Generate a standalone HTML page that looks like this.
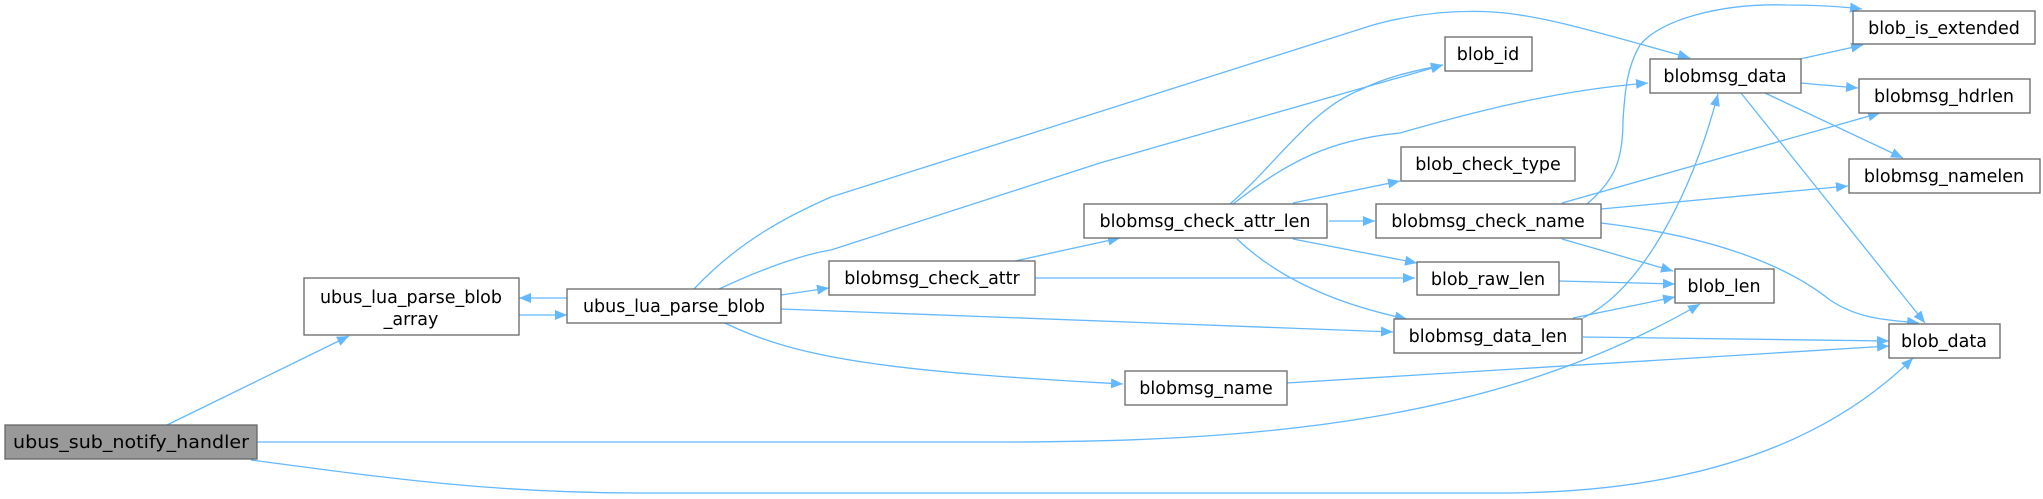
<!DOCTYPE html>
<html><head><meta charset="utf-8"><style>
html,body{margin:0;padding:0;background:#fff;}
svg{display:block;}
text{font-family:"DejaVu Sans","Liberation Sans",sans-serif;font-size:17.5px;fill:#000;}
.n{fill:#fff;stroke:#666;stroke-width:1.3;}
.e{fill:none;stroke:#63b8ff;stroke-width:1.3;}
</style></head><body>
<svg width="2043" height="499" viewBox="0 0 2043 499" xmlns="http://www.w3.org/2000/svg">
<defs>
<marker id="a" markerUnits="userSpaceOnUse" markerWidth="14" markerHeight="12" refX="12" refY="5" orient="auto">
<path d="M0,0 L12,5 L0,10 z" fill="#63b8ff"/>
</marker>
</defs>
<g marker-end="url(#a)">
<path class="e" d="M167,425 L349,336"/>
<path class="e" d="M257,442 L1000,442 C1267,442 1500,420 1700,304"/>
<path class="e" d="M251,460 C400,480 500,493 640,493 L1500,493 C1700,493 1830,440 1913,358"/>
<path class="e" d="M519,315 L567,315"/>
<path class="e" d="M567,298 L519,298"/>
<path class="e" d="M694,289 C740,240 790,215 831,197 L1373,25 C1420,12 1460,10 1493,12 C1540,15 1590,30 1690,58"/>
<path class="e" d="M719,289 C760,270 800,255 831,250 L1100,163 L1443,65"/>
<path class="e" d="M781,295 L829,288"/>
<path class="e" d="M781,309 L1393,332"/>
<path class="e" d="M725,323 C800,360 900,372 1123,384"/>
<path class="e" d="M1015,261 L1120,238"/>
<path class="e" d="M1035,278 L1415,278"/>
<path class="e" d="M1230,204 C1280,160 1310,110 1360,90 C1390,75 1420,70 1443,65"/>
<path class="e" d="M1233,204 C1290,160 1330,140 1400,133 C1480,110 1560,90 1648,83"/>
<path class="e" d="M1293,203 L1400,181"/>
<path class="e" d="M1329,221 L1375,221"/>
<path class="e" d="M1293,239 L1417,263"/>
<path class="e" d="M1237,239 C1280,280 1340,305 1407,319"/>
<path class="e" d="M1587,204 C1615,180 1623,160 1623,120 C1625,90 1627,67 1640,45 C1660,20 1720,3 1787,5 C1820,5 1845,7 1862,9"/>
<path class="e" d="M1562,203 L1880,113"/>
<path class="e" d="M1601,209 L1848,186"/>
<path class="e" d="M1562,239 L1673,271"/>
<path class="e" d="M1601,223 C1700,235 1780,260 1830,300 C1860,320 1890,320 1919,323"/>
<path class="e" d="M1800,59 L1863,45"/>
<path class="e" d="M1800,83 L1858,88"/>
<path class="e" d="M1765,93 L1903,158"/>
<path class="e" d="M1741,93 L1925,323"/>
<path class="e" d="M1559,281 L1675,284"/>
<path class="e" d="M1573,318 L1675,297"/>
<path class="e" d="M1583,318 C1640,290 1690,200 1718,94"/>
<path class="e" d="M1583,337 L1889,341"/>
<path class="e" d="M1287,383 L1889,346"/>
</g>
<rect x="5" y="425" width="252" height="34" fill="#999" stroke="#666" stroke-width="1.3"/>
<text x="131" y="448" text-anchor="middle" textLength="236" lengthAdjust="spacingAndGlyphs">ubus_sub_notify_handler</text>
<rect class="n" x="304" y="278" width="215" height="57"/>
<text x="411" y="303" text-anchor="middle">ubus_lua_parse_blob</text>
<text x="411" y="325" text-anchor="middle">_array</text>
<rect class="n" x="567" y="289" width="214" height="34"/>
<text x="674" y="312" text-anchor="middle">ubus_lua_parse_blob</text>
<rect class="n" x="829" y="261" width="206" height="34"/>
<text x="932" y="284" text-anchor="middle">blobmsg_check_attr</text>
<rect class="n" x="1125" y="371" width="162" height="34"/>
<text x="1206" y="394" text-anchor="middle">blobmsg_name</text>
<rect class="n" x="1084" y="204" width="243" height="34"/>
<text x="1205" y="227" text-anchor="middle">blobmsg_check_attr_len</text>
<rect class="n" x="1445" y="37" width="87" height="34"/>
<text x="1488" y="60" text-anchor="middle">blob_id</text>
<rect class="n" x="1401" y="147" width="174" height="34"/>
<text x="1488" y="170" text-anchor="middle">blob_check_type</text>
<rect class="n" x="1376" y="204" width="225" height="34"/>
<text x="1488" y="227" text-anchor="middle">blobmsg_check_name</text>
<rect class="n" x="1417" y="262" width="142" height="33"/>
<text x="1488" y="285" text-anchor="middle">blob_raw_len</text>
<rect class="n" x="1394" y="319" width="188" height="34"/>
<text x="1488" y="342" text-anchor="middle">blobmsg_data_len</text>
<rect class="n" x="1650" y="59" width="151" height="34"/>
<text x="1725" y="82" text-anchor="middle">blobmsg_data</text>
<rect class="n" x="1675" y="269" width="99" height="34"/>
<text x="1724" y="292" text-anchor="middle">blob_len</text>
<rect class="n" x="1853" y="11" width="182" height="33"/>
<text x="1944" y="34" text-anchor="middle">blob_is_extended</text>
<rect class="n" x="1859" y="79" width="171" height="34"/>
<text x="1944" y="102" text-anchor="middle">blobmsg_hdrlen</text>
<rect class="n" x="1849" y="159" width="191" height="34"/>
<text x="1944" y="182" text-anchor="middle">blobmsg_namelen</text>
<rect class="n" x="1889" y="324" width="111" height="34"/>
<text x="1944" y="347" text-anchor="middle">blob_data</text>
</svg>
</body></html>
